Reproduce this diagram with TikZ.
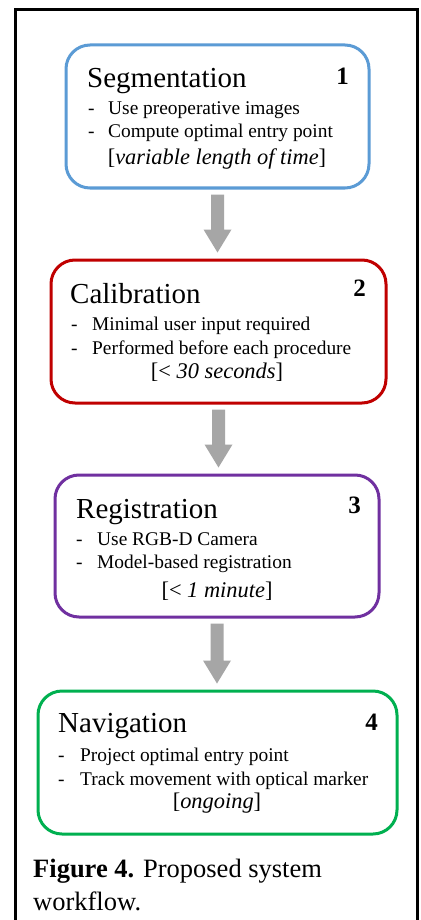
\documentclass[tikz,border=0pt]{standalone}
\usepackage{fontspec}
\setmainfont{Liberation Serif}
\usetikzlibrary{calc}

\definecolor{segblue}{HTML}{5B9BD5}
\definecolor{calred}{HTML}{C00000}
\definecolor{regpurple}{HTML}{7030A0}
\definecolor{navgreen}{HTML}{00B050}
\definecolor{arrowgray}{HTML}{A6A6A6}

\tikzset{
  stagebox/.style={draw=#1, line width=3pt, rounded corners=24pt,
    fill=white, inner sep=0pt},
  stagetitle/.style={anchor=base west, inner sep=0pt,
    font=\fontsize{29}{34}\selectfont},
  stagenum/.style={anchor=base east, inner sep=0pt,
    font=\fontsize{25}{30}\selectfont\bfseries},
  bullet/.style={anchor=base west, inner sep=0pt,
    font=\fontsize{19.4}{23}\selectfont},
  timing/.style={anchor=base, inner sep=0pt,
    font=\fontsize{22.4}{26}\selectfont},
  caption/.style={anchor=base west, inner sep=0pt,
    font=\fontsize{26.5}{33}\selectfont},
}

% grey block arrow from the bottom of one stage to the top of the next
\newcommand\flowarrow[2]{%
  \fill[arrowgray] let \p1=(#1.south), \p2=(#2.north) in
    (\x1-6.5pt,\y1-5pt) -- (\x1+6.5pt,\y1-5pt) -- (\x1+6.5pt,\y2+29pt)
    -- (\x1+14pt,\y2+29pt) -- (\x1,\y2+6pt) -- (\x1-14pt,\y2+29pt)
    -- (\x1-6.5pt,\y2+29pt) -- cycle;}

\begin{document}
\begin{tikzpicture}[x=1pt,y=-1pt]
\useasboundingbox (0,0) rectangle (420,920);
\fill[white] (0,0) rectangle (420,920);

% outer frame, open at the bottom
\draw[line width=3pt] (15,920) -- (15,10) -- (417,10) -- (417,920);

% stage boxes
\node[stagebox=segblue, minimum width=303pt, minimum height=143pt] (b1) at (217.5,116.5) {};
\node[stagebox=calred, minimum width=335pt, minimum height=143pt] (b2) at (218.5,331.5) {};
\node[stagebox=regpurple, minimum width=324pt, minimum height=142pt] (b3) at (217,546) {};
\node[stagebox=navgreen, minimum width=359pt, minimum height=143pt] (b4) at (217.5,762.5) {};

% connectors
\flowarrow{b1}{b2}
\flowarrow{b2}{b3}
\flowarrow{b3}{b4}

% stage 1
\node[stagetitle] (t1) at (87,88) {Segmentation};
\node[stagenum] (n1) at (349,85) {1};
\node[bullet] (d1a) at (88,115) {-};
\node[bullet] (l1a) at (108,115) {Use preoperative images};
\node[bullet] (d1b) at (88,138) {-};
\node[bullet] (l1b) at (108,138) {Compute optimal entry point};
\node[timing] (w1) at (217,165) {[\textit{variable length of time}]};

% stage 2
\node[stagetitle] (t2) at (70,303) {Calibration};
\node[stagenum] (n2) at (366,296) {2};
\node[bullet] (d2a) at (71,330) {-};
\node[bullet] (l2a) at (92,330) {Minimal user input required};
\node[bullet] (d2b) at (71,354) {-};
\node[bullet] (l2b) at (92,354) {Performed before each procedure};
\node[timing] (w2) at (217,378) {[< \textit{30 seconds}]};

% stage 3
\node[stagetitle] (t3) at (76,518) {Registration};
\node[stagenum] (n3) at (361,513) {3};
\node[bullet] (d3a) at (76,545) {-};
\node[bullet] (l3a) at (97,545) {Use RGB-D Camera};
\node[bullet] (d3b) at (76,568) {-};
\node[bullet] (l3b) at (97,568) {Model-based registration};
\node[timing] (w3) at (217,597) {[< \textit{1 minute}]};

% stage 4
\node[stagetitle] (t4) at (58,732) {Navigation};
\node[stagenum] (n4) at (378,730) {4};
\node[bullet] (d4a) at (58,761) {-};
\node[bullet] (l4a) at (80,761) {Project optimal entry point};
\node[bullet] (d4b) at (58,785) {-};
\node[bullet] (l4b) at (80,785) {Track movement with optical marker};
\node[timing] (w4) at (217,808) {[\textit{ongoing}]};

% caption
\node[caption] (c1) at (33,877) {\textbf{Figure 4.} Proposed system};
\node[caption] (c2) at (33,910) {workflow.};
\end{tikzpicture}
\end{document}
